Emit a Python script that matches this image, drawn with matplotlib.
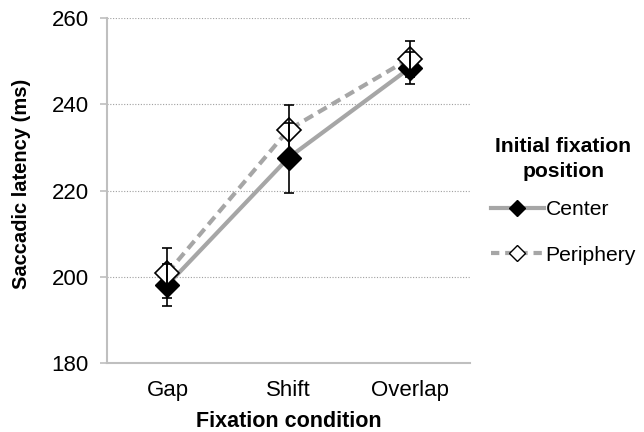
import matplotlib
matplotlib.use('Agg')
import matplotlib.pyplot as plt
from matplotlib.lines import Line2D

plt.rcParams['font.family'] = ['Liberation Sans', 'DejaVu Sans']

conditions = ['Gap', 'Shift', 'Overlap']
center = [198.1, 227.6, 248.4]
center_err = [4.8, 8.1, 3.7]
periphery = [200.9, 234.1, 250.6]
periphery_err = [5.8, 5.8, 4.2]

x = list(range(len(conditions)))
grey = '#a6a6a6'

fig = plt.figure(figsize=(6.44, 4.32), dpi=100)
ax = fig.add_axes([0.166, 0.160, 0.564, 0.798])

ax.plot(x, center, color=grey, lw=3, solid_capstyle='butt', zorder=2)
ax.plot(x, periphery, color=grey, lw=3, dashes=(2.4, 1.4), zorder=3)
ax.plot(x, center, ls='none', marker='D', ms=12, mfc='black', mec='black', zorder=4)
ax.plot(x, periphery, ls='none', marker='D', ms=12, mfc='white', mec='black', mew=1.2, zorder=5)
ax.errorbar(x, center, yerr=center_err, fmt='none', ecolor='black', elinewidth=1.2,
            capsize=3.5, capthick=1.2, zorder=6)
ax.errorbar(x, periphery, yerr=periphery_err, fmt='none', ecolor='black', elinewidth=1.2,
            capsize=3.5, capthick=1.2, zorder=6)

ax.set_xlim(-0.5, 2.5)
ax.set_ylim(180, 260)
ax.set_yticks([180, 200, 220, 240, 260])
ax.set_xticks(x)
ax.set_xticklabels(conditions)
ax.yaxis.grid(True, color='#a0a0a0', ls=(0, (1, 1.5)), lw=0.8)
ax.set_axisbelow(True)

for s in ['top', 'right']:
    ax.spines[s].set_visible(False)
for s in ['left', 'bottom']:
    ax.spines[s].set_color('#bfbfbf')
    ax.spines[s].set_linewidth(1.5)

ax.tick_params(axis='y', length=5, width=1.2, color='#bfbfbf', labelsize=16, pad=8)
ax.tick_params(axis='x', length=0, labelsize=16, pad=12)
ax.set_ylabel('Saccadic latency (ms)', fontsize=14.5, fontweight='bold', labelpad=15)
ax.yaxis.label.set_y(0.52)
ax.set_xlabel('Fixation condition', fontsize=15.5, fontweight='bold', labelpad=7.5)

handles = [
    Line2D([], [], color=grey, lw=3, marker='D', ms=8.5, mfc='black', mec='black'),
    Line2D([], [], color=grey, lw=3, dashes=(2.0, 1.4), marker='D', ms=8.5, mfc='white', mec='black'),
]
leg = fig.legend(handles, ['Center', 'Periphery'], title='Initial fixation\nposition',
                 loc='upper left', bbox_to_anchor=(0.762, 0.683), frameon=False,
                 fontsize=15.2, title_fontproperties={'weight': 'bold', 'size': 15.2},
                 handlelength=2.5, handletextpad=0.1, labelspacing=1.25,
                 borderpad=0, borderaxespad=0)
leg._legend_box.align = 'center'
leg._legend_box.sep = 14
leg.get_title().set_multialignment('center')
leg.get_title().set_linespacing(1.4)

fig.savefig('out.png', dpi=100)
